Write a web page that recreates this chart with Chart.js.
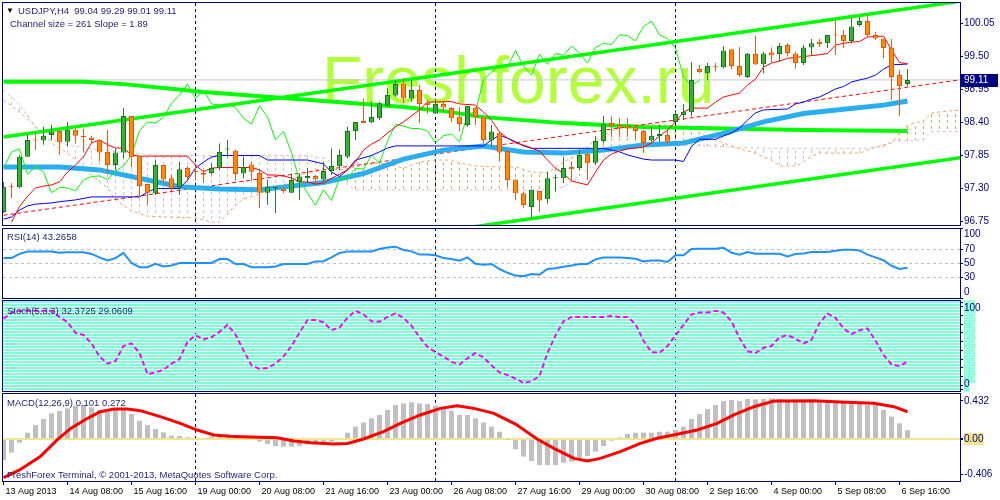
<!DOCTYPE html>
<html><head><meta charset="utf-8">
<script src="https://cdn.jsdelivr.net/npm/chart.js@4.4.0/dist/chart.umd.min.js"></script>
<style>
body{margin:0;background:#fff;width:1000px;height:500px;overflow:hidden;position:relative;font-family:'Liberation Sans',Arial,sans-serif;}
canvas{position:absolute;left:0;z-index:2;}
.box{position:absolute;border:1px solid #000080;box-sizing:border-box;z-index:1;}
.t{position:absolute;white-space:nowrap;font-size:9.5px;line-height:12px;color:#1e1e78;z-index:5;}
#wm{position:absolute;left:322px;top:47px;font-size:66px;line-height:66px;color:rgb(178,255,60);z-index:0;}
</style></head><body>
<div id="wm">Freshforex.ru</div>
<div class="box" style="left:2px;top:2px;width:959px;height:224px"></div>
<div class="box" style="left:2px;top:228px;width:959px;height:71px"></div>
<div class="box" style="left:2px;top:300px;width:959px;height:92px"></div>
<div class="box" style="left:2px;top:393px;width:959px;height:89px"></div>
<canvas id="cPrice" width="1000" height="228" style="top:0"></canvas>
<canvas id="cRsi" width="1000" height="82" style="top:222px"></canvas>
<canvas id="cSto" width="1000" height="102" style="top:295px"></canvas>
<canvas id="cMacd" width="1000" height="112" style="top:388px"></canvas>
<div class="t" style="left:6px;top:5px;font-size:8px;color:#000">▼</div>
<div class="t" style="left:18px;top:5px">USDJPY,H4&nbsp; 99.04 99.29 99.01 99.11</div>
<div class="t" style="left:10px;top:18px">Channel size = 261 Slope = 1.89</div>
<div class="t" style="left:7px;top:231px">RSI(14) 43.2658</div>
<div class="t" style="left:7px;top:305px">Stoch(5,3,3) 32.3725 29.0609</div>
<div class="t" style="left:7px;top:397px">MACD(12,26,9) 0.101 0.272</div>
<div class="t" style="left:7px;top:469px">FreshForex Terminal, © 2001-2013, MetaQuotes Software Corp.</div>
<script>
// ---------- data ----------
const xLabels = ["13 Aug 2013","14 Aug 08:00","15 Aug 16:00","19 Aug 00:00","20 Aug 08:00","21 Aug 16:00","23 Aug 00:00","26 Aug 08:00","27 Aug 16:00","29 Aug 00:00","30 Aug 08:00","2 Sep 16:00","4 Sep 00:00","5 Sep 08:00","6 Sep 16:00"];
const xLabelIdx = [0,8,16,24,32,40,48,56,64,72,80,88,96,104,112];
const sepIdx = [24,54,84];
const priceTicks = [100.05,99.50,98.95,98.40,97.85,97.30,96.75];
const rsiTicks = [100,70,50,30,0];
const rsiLevels = [70,50,30];
const stoTicks = [95,85,75,65,55,45,35,25,15,5,100,0];
const macdTicks = [0.432,0,-0.406];
const macdTickLabels = ["0.432","0.00","-0.406"];

const opens = [96.91,97.33,97.32,97.83,98.11,98.10,98.19,98.26,98.08,98.28, 98.17,98.15,98.11,97.91,97.69,97.90,98.51,97.84,97.375,97.22, 97.69,97.47,97.32,97.64,97.58,97.56,97.56,97.64,97.95,97.93, 97.55,97.70,97.56,97.23,97.31,97.30,97.23,97.41,97.47,97.51, 97.45,97.59,97.67,97.83,98.26,98.425,98.40,98.47,98.68,98.85, 99.05,98.80,98.94,98.73,98.55,98.71,98.64,98.50,98.36,98.65, 98.50,98.10,98.23,97.925,97.45,97.22,96.99,97.26,97.12,97.47, 97.47,97.66,97.64,97.875,97.73,98.09,98.39,98.36,98.35,98.32, 98.26,98.10,98.175,98.19,98.41,98.525,98.57,99.29,99.22,99.325, 99.32,99.62,99.34,99.16,99.54,99.37,99.57,99.54,99.69,99.55, 99.39,99.65,99.74,99.72,99.86,99.86,99.76,100.025,100.09,99.86, 99.80,99.65,99.19,99.04];
const highs = [97.41,97.39,97.86,98.21,98.23,98.33,98.36,98.26,98.41,98.30, 98.29,98.18,98.11,98.28,97.97,98.64,98.51,97.84,97.38,97.78, 97.69,97.53,97.75,97.67,97.67,97.61,97.72,98.05,98.11,97.95, 97.83,97.75,97.61,97.44,97.33,97.33,97.55,97.55,97.64,97.53, 97.75,97.97,97.95,98.33,98.41,98.80,98.75,98.75,98.97,99.11, 99.14,99.11,99.03,98.78,98.80,98.75,98.66,98.66,98.68,98.66, 98.50,98.36,98.25,97.93,97.45,97.25,97.28,97.26,97.58,97.53, 97.83,97.75,97.94,97.89,98.175,98.51,98.50,98.47,98.47,98.36, 98.28,98.33,98.36,98.28,98.61,98.71,99.41,99.36,99.39,99.39, 99.675,99.62,99.66,99.56,99.84,99.58,99.65,99.72,99.72,99.58, 99.69,99.79,99.79,99.86,100.11,99.94,100.14,100.16,100.19,99.91, 99.80,99.79,99.275,99.29];
const lows = [96.89,97.14,97.30,97.83,97.94,98.03,98.11,97.86,98.00,98.05, 97.91,98.05,97.75,97.55,97.61,97.80,97.66,97.16,97.03,97.19, 97.39,97.25,97.19,97.44,97.44,97.39,97.53,97.61,97.83,97.44, 97.47,97.44,96.97,97.03,96.89,97.22,97.23,97.11,97.39,97.39, 97.41,97.53,97.61,97.80,98.11,98.39,98.39,98.44,98.66,98.83, 98.72,98.75,98.39,98.55,98.55,98.58,98.41,98.25,98.33,98.36, 98.05,98.00,97.75,97.33,97.11,96.97,96.80,96.91,97.05,97.25, 97.39,97.44,97.61,97.44,97.69,98.05,98.16,98.16,98.16,98.11, 97.89,98.08,98.08,98.03,98.39,98.44,98.50,99.22,99.11,99.25, 99.30,99.29,99.16,99.14,99.36,99.22,99.39,99.41,99.50,99.30, 99.36,99.525,99.66,99.64,99.525,99.64,99.72,100.00,99.83,99.775, 99.47,98.775,98.51,99.01];
const closes = [97.33,97.32,97.83,98.11,98.10,98.18,98.25,98.07,98.28,98.18, 98.16,98.11,97.90,97.69,97.90,98.51,97.82,97.34,97.23,97.69, 97.45,97.30,97.62,97.49,97.575,97.53,97.64,97.91,97.96,97.54, 97.66,97.58,97.23,97.32,97.31,97.26,97.44,97.50,97.51,97.45, 97.59,97.675,97.86,98.26,98.41,98.39,98.49,98.72,98.86,99.04, 98.80,98.94,98.71,98.69,98.71,98.65,98.47,98.375,98.68,98.49, 98.11,98.25,97.90,97.44,97.22,97.025,97.28,97.10,97.47,97.47, 97.64,97.62,97.86,97.72,98.09,98.37,98.34,98.30,98.30,98.26, 98.06,98.18,98.21,98.08,98.54,98.58,99.11,99.24,99.34,99.32, 99.60,99.34,99.19,99.54,99.37,99.55,99.52,99.675,99.56,99.39, 99.65,99.72,99.70,99.86,99.85,99.76,100.00,100.09,99.86,99.80, 99.64,99.16,99.01,99.11];
const chikou = [97.64,97.91,97.96,97.54,97.66,97.58,97.23,97.32,97.31,97.26, 97.44,97.50,97.51,97.45,97.59,97.675,97.86,98.26,98.41,98.39, 98.49,98.72,98.86,99.04,98.80,98.94,98.71,98.69,98.71,98.65, 98.47,98.375,98.68,98.49,98.11,98.25,97.90,97.44,97.22,97.025, 97.28,97.10,97.47,97.47,97.64,97.62,97.86,97.72,98.09,98.37, 98.34,98.30,98.30,98.26,98.06,98.18,98.21,98.08,98.54,98.58, 99.11,99.24,99.34,99.32,99.60,99.34,99.19,99.54,99.37,99.55, 99.52,99.675,99.56,99.39,99.65,99.72,99.70,99.86,99.85,99.76, 100.00,100.09,99.86,99.80,99.64,99.16,99.01,99.11];
const tenkan = [[1,96.74],[2,97.00],[3,97.17],[4,97.31],[5,97.34],[6,97.36],[7,97.41],[8,97.575],[9,97.69],[10,97.83],[11,98.06],[12,98.11],[13,98.03],[14,97.975],[15,97.975],[16,97.86],[17,97.84],[23,97.84],[24,97.69],[25,97.58],[26,97.64],[27,97.65],[31,97.65],[32,97.61],[33,97.525],[34,97.525],[35,97.51],[36,97.475],[37,97.41],[38,97.41],[39,97.375],[40,97.39],[41,97.47],[42,97.54],[43,97.61],[44,97.74],[45,97.94],[46,98.04],[47,98.11],[48,98.225],[49,98.325],[50,98.41],[51,98.51],[52,98.61],[53,98.74],[56,98.75],[57,98.71],[59,98.69],[60,98.575],[61,98.44],[62,98.24],[63,98.14],[64,98.06],[65,98.025],[66,97.975],[67,97.925],[68,97.775],[69,97.64],[70,97.55],[71,97.425],[73,97.36],[74,97.575],[75,97.775],[76,97.875],[77,97.925],[78,97.96],[80,97.99],[81,98.06],[82,98.175],[83,98.275],[84,98.41],[85,98.575],[86,98.64],[88,98.64],[89,98.74],[90,98.825],[91,98.86],[92,98.89],[93,99.025],[94,99.125],[95,99.325],[96,99.39],[97,99.425],[98,99.47],[99,99.485],[100,99.50],[102,99.53],[103,99.55],[104,99.69],[105,99.72],[106,99.74],[107,99.75],[108,99.825],[110,99.84],[111,99.61],[112,99.40],[113,99.38]];
const kijun = [[0,96.79],[1,96.825],[2,96.94],[3,97.01],[4,97.04],[5,97.05],[6,97.06],[7,97.08],[9,97.11],[11,97.16],[17,97.16],[18,97.24],[19,97.30],[22,97.30],[23,97.44],[24,97.64],[25,97.74],[26,97.825],[27,97.85],[32,97.85],[33,97.775],[38,97.775],[40,97.71],[41,97.575],[42,97.50],[43,97.61],[44,97.775],[46,97.85],[47,97.91],[48,97.975],[49,98.01],[60,98.01],[61,98.11],[62,98.19],[63,98.14],[64,98.08],[65,98.01],[66,97.97],[75,97.97],[77,97.91],[78,97.86],[79,97.825],[80,97.79],[81,97.775],[84,97.775],[85,97.75],[86,98.00],[87,98.12],[89,98.12],[90,98.175],[91,98.225],[92,98.31],[93,98.44],[94,98.56],[95,98.61],[98,98.625],[99,98.71],[100,98.74],[101,98.79],[102,98.825],[103,98.89],[104,98.96],[105,99.00],[106,99.075],[107,99.11],[108,99.14],[109,99.19],[110,99.29],[111,99.36],[113,99.375]];
const spanA = [[0,98.775],[2,98.575],[4,98.34],[5,98.19],[6,98.06],[8,97.89],[10,97.66],[11,97.525],[13,97.31],[14,97.11],[16,96.925],[18,96.84],[20,96.825],[24,96.81],[26,96.74],[27,96.74],[28,96.875],[29,97.025],[30,97.125],[32,97.21],[34,97.31],[36,97.41],[37,97.525],[38,97.575],[40,97.64],[42,97.61],[44,97.66],[46,97.725],[48,97.71],[50,97.64],[52,97.74],[54,97.775],[56,97.775],[57,97.725],[59,97.675],[62,97.66],[64,97.66],[66,97.575],[68,97.56],[70,97.74],[72,97.89],[74,98.11],[76,98.26],[78,98.36],[82,98.36],[84,98.34],[86,98.33],[87,98.225],[88,98.16],[90,98.06],[92,97.96],[94,97.89],[96,97.775],[97,97.675],[99,97.675],[100,97.74],[101,97.84],[102,97.89],[107,97.89],[109,97.99],[111,98.06],[112,98.225],[113,98.36],[115,98.425],[116,98.56],[118,98.59],[120,98.61]];
const spanB = [[0,98.94],[1,98.825],[2,98.69],[3,98.525],[4,98.325],[5,98.19],[6,98.11],[8,98.025],[12,97.94],[16,97.89],[20,97.85],[38,97.85],[40,97.81],[41,97.74],[42,97.525],[43,97.36],[44,97.275],[68,97.275],[70,97.325],[72,97.51],[74,97.725],[76,97.94],[78,97.995],[80,98.025],[84,98.025],[88,98.01],[92,97.985],[96,97.97],[108,97.97],[110,97.997],[111,98.09],[115,98.11],[116,98.25],[120,98.25]];
const maBlue = [[0,97.66],[7,97.66],[12,97.61],[17,97.47],[22,97.33],[27,97.29],[32,97.28],[36,97.34],[40,97.40],[45,97.55],[50,97.79],[55,97.94],[60,98.01],[65,97.91],[70,97.89],[75,97.94],[80,98.025],[85,98.06],[90,98.22],[95,98.41],[100,98.55],[105,98.62],[110,98.69],[113,98.76]];
const maGreen = [[0,99.08],[10,99.08],[15,99.04],[20,98.975],[25,98.91],[30,98.86],[35,98.81],[40,98.76],[45,98.71],[50,98.66],[55,98.59],[60,98.49],[65,98.44],[70,98.39],[75,98.36],[80,98.325],[90,98.30],[100,98.275],[113,98.26]];
const chanUpper = [[0,98.16],[120,100.43]];
const chanMiddle = [[0,96.855],[120,99.12]];
const chanLower = [[0,95.55],[120,97.82]];
const rsi = [57,57,63,66.5,66.5,66.5,66.5,64.5,65.5,65.5, 65.5,63,58,53.5,57,64.5,50,44,44,49, 45,46.5,50,50,50,50,50,55.7,55.7,48.6, 48.6,44,44,44,45,48.6,48.6,48.6,48.6,52.3, 52.6,58,64.3,66.6,66.6,66.6,66.6,70,72,73.3, 68.6,66.6,62,62,61,57,55.7,53.3,58,49, 47.6,48.6,41.4,36,32,31,34.3,33.3,41.4,42.5, 44.7,46.5,48.6,48.6,55,58,58,58,57,56, 52.3,53.7,53.7,51.4,60.9,60.9,70,70.4,70.4,70.4, 71.9,64.7,62,65.7,63.3,63.3,63.3,63.3,59.4,62.9, 63.5,65.7,65.7,65.7,67.6,69,69,68,62,58, 54,46,41.4,43.27];
const stoch = [81,88,90,90,90,90,90,83,77,65, 62.5,53,38,30,33,50,53,42,18,20, 23,30,35,55,62,57.6,60,66,74,63, 45,28,24,25,30,38,50,65,79.5,79.5, 77,68,71,82,90,86,78,77.7,83,87, 82,73,60,49,43,38,32,29,36,42, 37,28,20,17,13,8,10,16,42,62, 78,83,83,83,83,83,84,83,83,75, 56,43,42.4,50,62,74,86,88,88,90, 88,78,59,44,42,48,50,60,62.5,58, 53,57,76,87,82,70,63.5,68,70,56, 40,29,27.3,32.37];
const macdHist = [-0.239,-0.155,-0.042,0.072,0.159,0.227,0.292,0.318,0.348,0.379, 0.386,0.36,0.33,0.31,0.33,0.348,0.284,0.208,0.159,0.114, 0.076,0.038,0.034,0.02,0.01,0.01,0.03,0.045,0.057,0.034, 0.01,0.0,-0.03,-0.057,-0.08,-0.087,-0.087,-0.08,-0.06,-0.057, -0.057,-0.03,0.0,0.072,0.14,0.186,0.235,0.273,0.33,0.386, 0.405,0.417,0.405,0.398,0.379,0.36,0.318,0.273,0.273,0.235, 0.186,0.14,0.083,-0.005,-0.117,-0.2,-0.25,-0.295,-0.295,-0.295, -0.269,-0.258,-0.22,-0.193,-0.144,-0.08,-0.019,0.019,0.057,0.072, 0.072,0.072,0.083,0.083,0.102,0.14,0.227,0.284,0.341,0.386, 0.432,0.443,0.432,0.455,0.45,0.455,0.462,0.455,0.443,0.432, 0.432,0.424,0.424,0.417,0.424,0.417,0.413,0.405,0.386,0.386, 0.33,0.254,0.178,0.101];
const macdSignal = [[0,-0.44],[2,-0.352],[4.6,-0.2],[6.7,-0.011],[8.4,0.121],[10.5,0.235],[12.1,0.31],[13.8,0.341],[15.5,0.341],[17.1,0.322],[19.6,0.254],[22.1,0.178],[24.2,0.102],[26.3,0.045],[28.8,0.027],[34.2,0.015],[36.3,-0.023],[38.4,-0.042],[41.3,-0.057],[43,-0.05],[45,0],[47.5,0.083],[49.6,0.178],[52.1,0.273],[54.6,0.348],[56.7,0.379],[58.8,0.348],[61.3,0.292],[64,0.17],[66.7,0.0],[68.8,-0.106],[71.3,-0.22],[73,-0.25],[74.6,-0.22],[77.1,-0.144],[79.6,-0.049],[81.7,0.008],[84.2,0.053],[86.7,0.102],[89.2,0.178],[91.3,0.273],[93.8,0.367],[96.3,0.432],[101.3,0.436],[104.6,0.42],[108.8,0.405],[111.3,0.367],[113,0.31]];

// ---------- styling / helpers ----------
const NAVY = '#000080';
const FONT = "'Liberation Sans', Arial, sans-serif";
const NONE = 'rgba(0,0,0,0)';
const X_MIN = -0.0625, X_MAX = 119.5625;
const lastPrice = closes[closes.length - 1];
const pts = arr => arr.map(([x, y]) => ({x, y}));
const seq = arr => arr.map((y, i) => ({x: i, y}));
const isBull = i => closes[i] >= opens[i];
const zeroPad = s => { s.paddingTop = 0; s.paddingBottom = 0; s.paddingLeft = 0; s.paddingRight = 0; };

function lineDs(data, color, width, order, extra) {
  return Object.assign({type: 'line', data, borderColor: color, borderWidth: width, pointRadius: 0,
    tension: 0, fill: false, clip: 0, order}, extra || {});
}
function sepAxis() {
  return {type: 'linear', min: X_MIN, max: X_MAX, offset: false, bounds: 'data',
    afterBuildTicks: s => { s.ticks = sepIdx.map(v => ({value: v})); },
    afterFit: s => { s.height = 0; zeroPad(s); },
    ticks: {display: false},
    grid: {color: NAVY, lineWidth: 1, drawTicks: false, offset: false},
    border: {display: false, dash: [3, 3]}};
}
function yAxis(min, max, ticks, labelFn, extra) {
  const ax = {position: 'right', min, max, bounds: 'data',
    afterFit: s => { s.width = 40; zeroPad(s); },
    afterBuildTicks: s => { s.ticks = ticks.map(v => ({value: v})); },
    ticks: {autoSkip: false, callback: labelFn, color: NAVY, font: {family: FONT, size: 10}, padding: 1},
    grid: {drawOnChartArea: false, tickLength: 3, tickColor: NAVY},
    border: {display: false}};
  if (extra) {
    if (extra.ticks) Object.assign(ax.ticks, extra.ticks);
    if (extra.grid) Object.assign(ax.grid, extra.grid);
    if (extra.border) Object.assign(ax.border, extra.border);
  }
  return ax;
}
function baseOpts(padTop, padBottom, scales) {
  return {responsive: false, maintainAspectRatio: false, animation: false, devicePixelRatio: 1, events: [],
    layout: {padding: {left: 3, right: 0, top: padTop, bottom: padBottom}},
    plugins: {legend: {display: false}, tooltip: {enabled: false}},
    scales};
}
function hatch(ctx, color) {
  const c = document.createElement('canvas'); c.width = 8; c.height = 6;
  const g = c.getContext('2d'); g.fillStyle = color; g.fillRect(3, 0, 1, 3);
  return ctx.createPattern(c, 'repeat');
}

// ---------- price pane ----------
const pctx = document.getElementById('cPrice').getContext('2d');
const patUp = hatch(pctx, '#F4A460');
const patDn = hatch(pctx, '#D8BFD8');
const priceDatasets = [
  {type: 'bar', data: opens.map((o, i) => ({x: i, y: [o, closes[i]]})), barThickness: 5, grouped: false,
   minBarLength: 1, borderWidth: 1, borderSkipped: false, inflateAmount: 0, clip: 0, order: 0,
   backgroundColor: c => isBull(c.dataIndex) ? '#32B432' : '#FF8C00',
   borderColor: c => isBull(c.dataIndex) ? '#1E6E1E' : '#E0541A'},
  {type: 'bar', data: lows.map((l, i) => ({x: i, y: [l, highs[i]]})), barThickness: 1, grouped: false,
   inflateAmount: 0, clip: 0, order: 1,
   backgroundColor: c => isBull(c.dataIndex) ? '#2A7A2A' : '#F05A14'},
  lineDs(pts(tenkan), '#FF0000', 1, 2),
  lineDs(pts(kijun), '#0000FF', 1, 3),
  lineDs(seq(chikou), '#00FF00', 1, 4),
  lineDs(pts(maBlue), '#2AAEF0', 5, 5),
  lineDs(pts(chanUpper), '#00FF00', 3.5, 6),
  lineDs(pts(chanLower), '#00FF00', 3.5, 6),
  lineDs(pts(chanMiddle), '#FF0000', 1, 6, {borderDash: [4, 3]}),
  lineDs(pts(maGreen), '#00FF00', 4, 7),
  lineDs([{x: 0, y: lastPrice}, {x: 120, y: lastPrice}], '#C8C8C8', 1, 8),
];
const idxB = priceDatasets.length + 1;
priceDatasets.push(lineDs(pts(spanA), '#F4A460', 1, 9, {borderDash: [3, 3], fill: {target: idxB, above: patUp, below: patDn}}));
priceDatasets.push(lineDs(pts(spanB), '#D8BFD8', 1, 10, {borderDash: [3, 3]}));

const priceBox = {
  id: 'priceBox',
  afterDraw(chart) {
    const y = Math.round(chart.scales.y.getPixelForValue(lastPrice));
    const ctx = chart.ctx;
    ctx.save();
    ctx.fillStyle = NAVY;
    ctx.fillRect(961, y - 6, 37, 13);
    ctx.fillStyle = '#FFFFFF';
    ctx.font = '10px ' + FONT;
    ctx.textBaseline = 'middle';
    ctx.fillText(lastPrice.toFixed(2), 964, y + 0.5);
    ctx.restore();
  }
};
new Chart(pctx, {
  type: 'bar',
  data: {datasets: priceDatasets},
  options: baseOpts(3, 3, {x: sepAxis(), y: yAxis(96.692, 100.392, priceTicks, v => v.toFixed(2))}),
  plugins: [priceBox]
});

// ---------- RSI pane ----------
const edgeLabel = (v, top, bottom) => v === top ? ['', String(v)] : (v === bottom ? [String(v), ''] : String(v));
new Chart(document.getElementById('cRsi'), {
  type: 'line',
  data: {datasets: [lineDs(seq(rsi), '#1E90FF', 2, 0)]},
  options: baseOpts(6, 6, {
    x: sepAxis(),
    y: yAxis(0, 100, rsiTicks, v => edgeLabel(v, 100, 0), {
      grid: {drawOnChartArea: true, color: c => (c.tick && rsiLevels.includes(c.tick.value)) ? '#C0C0C0' : NONE, tickBorderDash: []},
      border: {dash: [3, 3]}
    })
  })
});

// ---------- Stochastic pane ----------
const STO_MIN = -1.14, STO_MAX = 101.14;
const isEdge = c => c.tick && (c.tick.value === 100 || c.tick.value === 0);
new Chart(document.getElementById('cSto'), {
  type: 'line',
  data: {datasets: [lineDs(seq(stoch), '#FF00FF', 2, 0, {borderDash: [5, 3]})]},
  options: baseOpts(6, 6, {
    x: sepAxis(),
    ys: {position: 'left', min: STO_MIN, max: STO_MAX, bounds: 'data',
      afterFit: s => { s.width = 0; zeroPad(s); },
      afterBuildTicks: s => { const t = []; for (let v = 100.3; v > STO_MIN; v -= 3.409) t.push({value: v}); s.ticks = t; },
      ticks: {display: false}, grid: {color: '#7FFFD4', lineWidth: 2, drawTicks: false}, border: {display: false}},
    y: yAxis(STO_MIN, STO_MAX, stoTicks, v => edgeLabel(v, 100, 0), {
      ticks: {color: c => isEdge(c) ? NAVY : '#C4FFF0',
              backdropColor: c => isEdge(c) ? NONE : '#7FFFD4',
              showLabelBackdrop: true, backdropPadding: 0}
    })
  })
});

// ---------- MACD pane ----------
const macdXTicks = xLabelIdx.concat(sepIdx.filter(v => !xLabelIdx.includes(v))).sort((a, b) => a - b);
new Chart(document.getElementById('cMacd'), {
  type: 'bar',
  data: {datasets: [
    lineDs(pts(macdSignal), '#FF0000', 3, 0),
    {type: 'bar', data: seq(macdHist), barThickness: 5, grouped: false, inflateAmount: 0, clip: 0, order: 1, backgroundColor: '#C0C0C0'}
  ]},
  options: baseOpts(6, 0, {
    x: {type: 'linear', min: X_MIN, max: X_MAX, offset: false, bounds: 'data',
      afterBuildTicks: s => { s.ticks = macdXTicks.map(v => ({value: v})); },
      afterFit: s => { s.height = 19; zeroPad(s); },
      ticks: {autoSkip: false, maxRotation: 0, minRotation: 0, align: 'start', labelOffset: 2, padding: 1, color: '#000000',
        font: {family: FONT, size: 9},
        callback: v => { const k = xLabelIdx.indexOf(v); return k >= 0 ? xLabels[k] : ''; }},
      grid: {offset: false, drawOnChartArea: true, tickLength: 4, tickBorderDash: [],
        color: c => (c.tick && sepIdx.includes(c.tick.value)) ? NAVY : NONE,
        tickColor: c => (c.tick && xLabelIdx.includes(c.tick.value)) ? NAVY : NONE},
      border: {display: false, dash: [3, 3]}},
    y: yAxis(-0.4773, 0.5114, macdTicks, v => macdTickLabels[macdTicks.indexOf(v)], {
      grid: {drawOnChartArea: true, color: c => (c.tick && c.tick.value === 0) ? '#F0E68C' : NONE,
             lineWidth: c => (c.tick && c.tick.value === 0) ? 2 : 1},
      ticks: {showLabelBackdrop: true, backdropPadding: 0, backdropColor: c => (c.tick && c.tick.value === 0) ? '#F0E68C' : NONE}
    })
  })
});
</script>
</body></html>
